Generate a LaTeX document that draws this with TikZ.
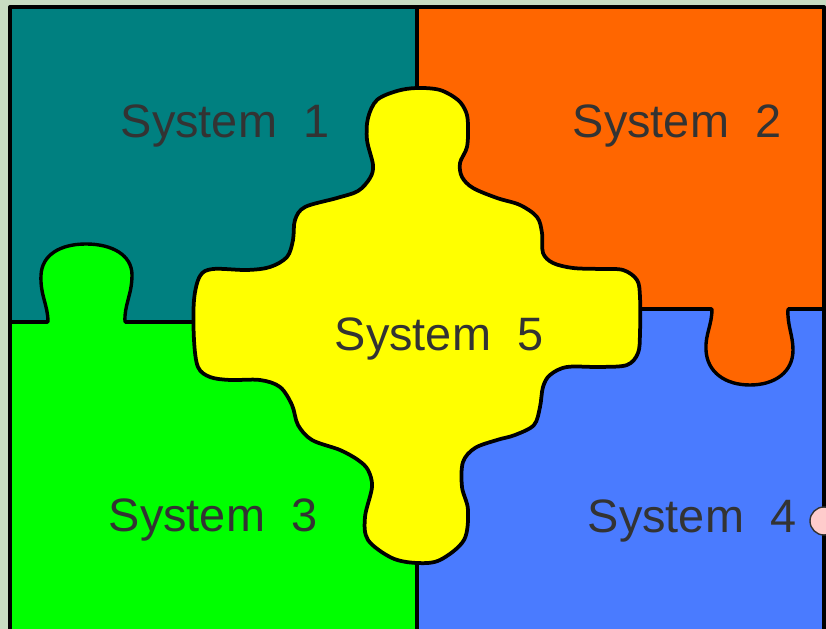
\documentclass[tikz,border=0pt]{standalone}
\usepackage{fontspec}
\setmainfont{Liberation Sans}
\definecolor{bgc}{HTML}{C8DCC2}
\definecolor{cone}{HTML}{008080}
\definecolor{ctwo}{HTML}{FF6600}
\definecolor{cthree}{HTML}{00FF00}
\definecolor{cfour}{HTML}{4A7BFF}
\definecolor{cfive}{HTML}{FFFF00}
\definecolor{txt}{HTML}{333333}
\definecolor{pinkc}{HTML}{FFCCCC}
\begin{document}
\begin{tikzpicture}[x=0.03cm,y=-0.03cm,line join=round,line cap=round,
  lbl/.style={text=txt,font=\fontsize{40}{48}\selectfont,inner sep=0pt},
  edge/.style={draw=black,line width=2.9pt}]
\useasboundingbox (0,0) rectangle (826,629);
\clip (0,0) rectangle (826,629);
\fill[bgc] (0,0) rectangle (826,629);
% quadrants
\fill[cone] (10,7) rectangle (417,322);
\fill[ctwo] (417,7) rectangle (824,309);
\fill[cthree] (10,322) rectangle (417,660);
\fill[cfour] (417,309) rectangle (824,660);
% dividers
\draw[edge] (417,7) -- (417,660);
\draw[edge] (10,322) -- (48,322);
\draw[edge] (125,322) -- (417,322);
\draw[edge] (417,309) -- (712,309);
\draw[edge] (788,309) -- (824,309);
% green tab
\fill[cthree] (48,324) .. controls (48,305) and (40,295) .. (41,275)
  .. controls (42,255) and (60,244) .. (86,244)
  .. controls (112,244) and (132,255) .. (132,275)
  .. controls (132,295) and (124,305) .. (125,324) -- cycle;
\draw[edge] (48,322) .. controls (48,305) and (40,295) .. (41,275)
  .. controls (42,255) and (60,244) .. (86,244)
  .. controls (112,244) and (132,255) .. (132,275)
  .. controls (132,295) and (124,305) .. (125,322);
% orange tab
\fill[ctwo] (712,307) .. controls (712,325) and (705,335) .. (706,350)
  .. controls (707,372) and (725,385) .. (750,385)
  .. controls (775,385) and (793,372) .. (793,350)
  .. controls (793,335) and (787,325) .. (788,307) -- cycle;
\draw[edge] (712,309) .. controls (712,325) and (705,335) .. (706,350)
  .. controls (707,372) and (725,385) .. (750,385)
  .. controls (775,385) and (793,372) .. (793,350)
  .. controls (793,335) and (787,325) .. (788,309);
% frame
\draw[line width=3.4pt] (10,7) rectangle (824,660);
% yellow piece
\filldraw[edge,line width=3.2pt,fill=cfive] plot[smooth cycle,tension=0.55] coordinates {
(417,88) (440,90) (458,100) (466,112) (468,125) (467,147) (460,163) (462,177)
(473,188) (497,198) (520,205) (537,217) (542,233) (543,253) (553,263) (573,268)
(600,269) (623,270) (637,280) (640,297) (640,333) (638,353) (627,365) (600,367)
(567,367) (550,375) (543,387) (540,407) (534,425) (515,435) (497,440) (475,448)
(463,462) (462,487) (468,510) (464,540) (440,560) (417,563) (392,558) (368,540)
(365,517) (372,487) (368,470) (358,460) (340,450) (312,440) (298,425) (292,405)
(280,387) (260,380) (230,380) (210,377) (198,367) (194,340) (194,300) (200,276)
(213,269) (247,270) (270,267) (287,257) (293,240) (295,220) (305,207) (337,198)
(358,191) (370,178) (373,165) (367,140) (368,118) (377,100) (397,91)};
% pink dot
\filldraw[fill=pinkc,draw=txt,line width=1.2pt] (824,521) circle (14);
% labels
\node[lbl] (s1) at (225,126) {System~~1};
\node[lbl] (s2) at (677,126) {System~~2};
\node[lbl] (s5) at (439,339) {System~~5};
\node[lbl] (s3) at (213,520) {System~~3};
\node[lbl] (s4) at (692,521) {System~~4};
\end{tikzpicture}
\end{document}
